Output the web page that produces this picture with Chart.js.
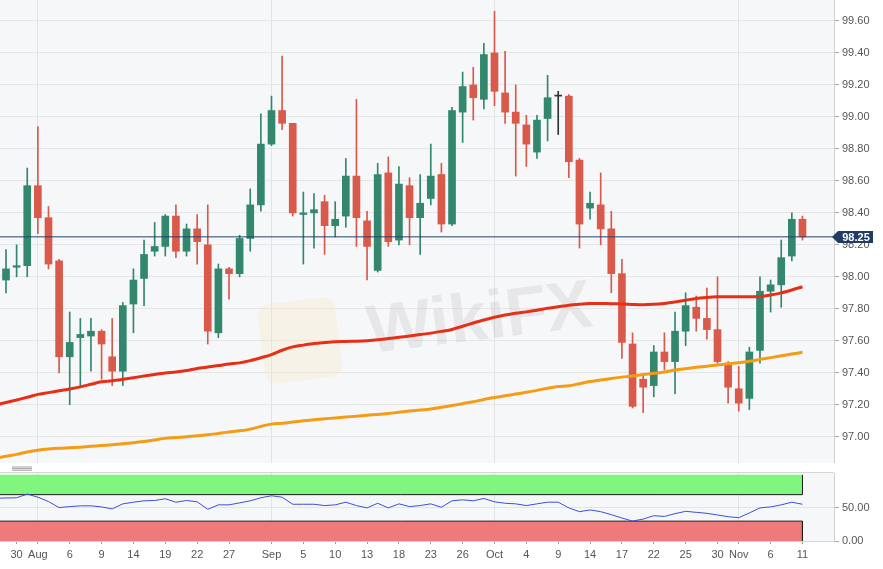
<!DOCTYPE html>
<html>
<head>
<meta charset="utf-8">
<script src="https://cdn.jsdelivr.net/npm/chart.js@4.4.1/dist/chart.umd.min.js"></script>
<style>
  html, body { margin: 0; padding: 0; background: #fff; }
  #wrap { position: relative; width: 883px; height: 569px; overflow: hidden; }
  #priceChart { position: absolute; left: 0; top: 0; }
  #rsiChart { position: absolute; left: 0; top: 463px; }
</style>
</head>
<body>
<div id="wrap">
  <canvas id="priceChart" width="883" height="463"></canvas>
  <canvas id="rsiChart" width="883" height="106"></canvas>
</div>
<script>
// daily candles, 2019 (first day only feeds the averages at the left edge)
const dates = [
  'Jul 26', 'Jul 29', 'Jul 30', 'Jul 31',
  'Aug 1', 'Aug 2', 'Aug 5', 'Aug 6', 'Aug 7', 'Aug 8', 'Aug 9', 'Aug 12', 'Aug 13', 'Aug 14', 'Aug 15', 'Aug 16',
  'Aug 19', 'Aug 20', 'Aug 21', 'Aug 22', 'Aug 23', 'Aug 26', 'Aug 27', 'Aug 28', 'Aug 29', 'Aug 30',
  'Sep 2', 'Sep 3', 'Sep 4', 'Sep 5', 'Sep 6', 'Sep 9', 'Sep 10', 'Sep 11', 'Sep 12', 'Sep 13', 'Sep 16', 'Sep 17',
  'Sep 18', 'Sep 19', 'Sep 20', 'Sep 23', 'Sep 24', 'Sep 25', 'Sep 26', 'Sep 27', 'Sep 30',
  'Oct 1', 'Oct 2', 'Oct 3', 'Oct 4', 'Oct 7', 'Oct 8', 'Oct 9', 'Oct 10', 'Oct 11', 'Oct 14', 'Oct 15', 'Oct 16',
  'Oct 17', 'Oct 18', 'Oct 21', 'Oct 22', 'Oct 23', 'Oct 24', 'Oct 25', 'Oct 28', 'Oct 29', 'Oct 30', 'Oct 31',
  'Nov 1', 'Nov 4', 'Nov 5', 'Nov 6', 'Nov 7', 'Nov 8', 'Nov 11'
];

const open = [null,
  97.98, 98.06, 98.07, 98.57, 98.37, 98.10, 97.50, 97.62, 97.63, 97.66,
  97.50, 97.41, 97.83, 97.99, 98.16, 98.19, 98.38, 98.16, 98.30, 98.20,
  97.65, 98.05, 98.02, 98.24, 98.45, 98.83, 99.04, 98.96, 98.39, 98.40,
  98.47, 98.32, 98.38, 98.63, 98.35, 98.04, 98.65, 98.23, 98.57, 98.37,
  98.49, 98.64, 98.33, 99.03, 99.20, 99.11, 99.40, 99.15, 99.03, 98.95,
  98.78, 98.99, 99.13, 99.13, 98.73, 98.43, 98.45, 98.30, 98.02, 97.58,
  97.36, 97.32, 97.53, 97.47, 97.66, 97.81, 97.74, 97.67, 97.46, 97.30,
  97.24, 97.54, 97.91, 97.95, 98.13, 98.36
];
const high = [null,
  98.17, 98.20, 98.68, 98.94, 98.44, 98.11, 97.78, 97.74, 97.74, 97.67,
  97.74, 97.84, 98.05, 98.23, 98.34, 98.39, 98.45, 98.33, 98.39, 98.45,
  98.08, 98.06, 98.26, 98.55, 99.02, 99.13, 99.38, 98.96, 98.53, 98.52,
  98.51, 98.47, 98.74, 99.11, 98.41, 98.71, 98.75, 98.69, 98.62, 98.64,
  98.83, 98.71, 99.06, 99.28, 99.31, 99.46, 99.66, 99.41, 99.20, 99.01,
  99.01, 99.26, 99.16, 99.14, 98.74, 98.53, 98.65, 98.41, 98.11, 97.65,
  97.39, 97.57, 97.65, 97.78, 97.90, 97.88, 97.93, 98.00, 97.47, 97.44,
  97.56, 98.00, 97.98, 98.23, 98.40, 98.38
];
const low = [null,
  97.90, 98.00, 98.00, 98.27, 98.05, 97.40, 97.20, 97.32, 97.41, 97.36,
  97.32, 97.32, 97.65, 97.82, 98.13, 98.13, 98.12, 98.13, 98.08, 97.58,
  97.62, 97.86, 98.00, 98.16, 98.41, 98.82, 98.92, 98.38, 98.08, 98.18,
  98.14, 98.25, 98.31, 98.19, 97.98, 98.03, 98.19, 98.20, 98.20, 98.14,
  98.45, 98.28, 98.32, 98.84, 98.98, 99.05, 99.07, 98.96, 98.63, 98.69,
  98.74, 98.85, 98.89, 98.62, 98.18, 98.36, 98.20, 97.90, 97.49, 97.18,
  97.15, 97.25, 97.42, 97.27, 97.57, 97.66, 97.61, 97.46, 97.21, 97.16,
  97.17, 97.46, 97.78, 97.81, 98.10, 98.23
];
const close = [null,
  98.05, 98.07, 98.57, 98.37, 98.08, 97.50, 97.59, 97.64, 97.66, 97.58,
  97.41, 97.82, 97.98, 98.14, 98.19, 98.38, 98.16, 98.30, 98.22, 97.66,
  98.05, 98.02, 98.24, 98.45, 98.83, 99.04, 98.96, 98.40, 98.40, 98.42,
  98.32, 98.36, 98.63, 98.37, 98.19, 98.64, 98.22, 98.58, 98.37, 98.46,
  98.63, 98.33, 99.04, 99.19, 99.12, 99.39, 99.16, 99.03, 98.96, 98.83,
  98.98, 99.12, 99.13, 98.72, 98.33, 98.46, 98.30, 98.02, 97.59, 97.19,
  97.31, 97.53, 97.47, 97.66, 97.82, 97.74, 97.67, 97.47, 97.31, 97.21,
  97.53, 97.91, 97.95, 98.12, 98.36, 98.25
];

// moving averages (red = faster, orange = slower)
const maFast = [
  97.199, 97.214, 97.230, 97.247, 97.265, 97.276, 97.288, 97.299, 97.312, 97.328, 97.344,
  97.350, 97.359, 97.369, 97.380, 97.390, 97.399, 97.405, 97.414, 97.427, 97.436,
  97.445, 97.455, 97.462, 97.476, 97.494, 97.514, 97.541, 97.562, 97.573, 97.583,
  97.589, 97.594, 97.596, 97.598, 97.601, 97.606, 97.614, 97.622, 97.630, 97.639,
  97.648, 97.659, 97.671, 97.691, 97.711, 97.730, 97.747, 97.761, 97.773, 97.781,
  97.791, 97.803, 97.813, 97.823, 97.829, 97.833, 97.833, 97.832, 97.830, 97.827,
  97.825, 97.828, 97.834, 97.843, 97.854, 97.865, 97.871, 97.875, 97.876, 97.876,
  97.876, 97.877, 97.886, 97.900, 97.918, 97.938
];
const maSlow = [
  96.865, 96.878, 96.890, 96.905, 96.916, 96.923, 96.928, 96.931, 96.935, 96.940, 96.945,
  96.950, 96.956, 96.963, 96.971, 96.980, 96.990, 96.995, 97.000, 97.006, 97.012,
  97.021, 97.030, 97.037, 97.048, 97.065, 97.079, 97.085, 97.092, 97.100, 97.107,
  97.112, 97.118, 97.123, 97.129, 97.135, 97.140, 97.146, 97.153, 97.161, 97.167,
  97.174, 97.184, 97.195, 97.207, 97.219, 97.233, 97.245, 97.256, 97.267, 97.278,
  97.290, 97.304, 97.314, 97.319, 97.332, 97.345, 97.355, 97.365, 97.373, 97.380,
  97.389, 97.397, 97.405, 97.417, 97.426, 97.434, 97.441, 97.449, 97.456, 97.463,
  97.472, 97.484, 97.495, 97.506, 97.517, 97.528
];

const rsi = [
  64.5, 65.0, 65.3, 70.8, 66.2, 59.6, 50.5, 52.0, 53.1, 53.1, 51.5,
  48.5, 56.1, 58.6, 60.7, 61.2, 63.8, 58.6, 61.2, 59.2, 47.9,
  54.6, 54.6, 57.6, 60.7, 65.3, 68.3, 66.2, 55.5, 55.5, 55.5,
  53.5, 54.6, 58.6, 53.5, 50.0, 57.0, 50.0, 56.1, 52.0, 53.5,
  56.1, 51.0, 60.7, 62.2, 60.7, 64.2, 59.2, 57.0, 56.1, 53.5,
  56.1, 58.6, 58.6, 50.0, 44.3, 46.9, 44.3, 39.8, 34.7, 30.1,
  33.1, 38.2, 37.1, 41.3, 44.8, 43.3, 41.8, 39.3, 36.7, 35.2,
  42.4, 50.0, 51.5, 54.6, 58.6, 55.5
];
const rsiUpper = 70;
const rsiLower = 30;

const priceTicks = [97.0, 97.2, 97.4, 97.6, 97.8, 98.0, 98.2, 98.4, 98.6, 98.8, 99.0, 99.2, 99.4, 99.6];
const rsiTicks = [0, 50];
const tickDates = ['Jul 30', 'Aug 1', 'Aug 6', 'Aug 9', 'Aug 14', 'Aug 19', 'Aug 22', 'Aug 27', 'Sep 2', 'Sep 5',
  'Sep 10', 'Sep 13', 'Sep 18', 'Sep 23', 'Sep 26', 'Oct 1', 'Oct 4', 'Oct 9', 'Oct 14', 'Oct 17', 'Oct 22',
  'Oct 25', 'Oct 30', 'Nov 1', 'Nov 6', 'Nov 11'];
const tickText = ['30', 'Aug', '6', '9', '14', '19', '22', '27', 'Sep', '5', '10', '13', '18', '23', '26',
  'Oct', '4', '9', '14', '17', '22', '25', '30', 'Nov', '6', '11'];
const monthStarts = ['Aug 1', 'Sep 2', 'Oct 1', 'Nov 1'];

/* ---------- setup ---------- */
const FONT = '"Liberation Sans", Arial, sans-serif';
Chart.defaults.font.family = FONT;

const xMin = 0.435, xMax = 78.97;
const yMin = 96.836, yMax = 99.731;
const last = dates.length - 1;
const lastClose = close[last];
const candleIdx = dates.map((d, i) => i).filter(i => open[i] !== null);

function candleColor(i) {
  if (close[i] > open[i]) return '#32876d';
  if (close[i] < open[i]) return '#d9594a';
  return '#333333';
}

// right axis: fixed width, no extra label padding above/below the plot
function fitRightAxis(s) {
  s.width = 49;
  s.paddingTop = 0;
  s.paddingBottom = 0;
}

const panelBg = {
  id: 'panelBg',
  beforeDraw(chart) {
    const { ctx, chartArea: a } = chart;
    ctx.save();
    ctx.fillStyle = '#f6f7f9';
    ctx.fillRect(a.left, a.top, a.right - a.left, a.bottom - a.top);
    ctx.restore();
  }
};

const watermark = {
  id: 'watermark',
  beforeDatasetsDraw(chart) {
    const { ctx } = chart;
    ctx.save();
    ctx.translate(470, 322);
    ctx.rotate(-0.12);
    ctx.fillStyle = 'rgba(250, 226, 170, 0.22)';
    ctx.beginPath();
    ctx.roundRect(-210, -42, 78, 80, 12);
    ctx.fill();
    ctx.fillStyle = 'rgba(175, 170, 168, 0.2)';
    ctx.font = 'bold 68px ' + FONT;
    ctx.textAlign = 'center';
    ctx.textBaseline = 'middle';
    ctx.fillText('WikiFX', 10, 0);
    ctx.restore();
  }
};

const lastTag = {
  id: 'lastTag',
  afterDraw(chart) {
    const { ctx, chartArea: a, scales } = chart;
    const y = Math.round(scales.y.getPixelForValue(lastClose));
    const x = a.right - 2;
    ctx.save();
    ctx.fillStyle = '#1f3c62';
    ctx.beginPath();
    ctx.moveTo(x, y);
    ctx.lineTo(x + 6, y - 6);
    ctx.lineTo(x + 41, y - 6);
    ctx.lineTo(x + 41, y + 6);
    ctx.lineTo(x + 6, y + 6);
    ctx.closePath();
    ctx.fill();
    ctx.fillStyle = '#ffffff';
    ctx.font = 'bold 11px ' + FONT;
    ctx.textAlign = 'center';
    ctx.textBaseline = 'middle';
    ctx.fillText(lastClose.toFixed(2), x + 24, y + 0.5);
    ctx.restore();
  }
};

const rsiFrame = {
  id: 'rsiFrame',
  afterDraw(chart) {
    const { ctx, chartArea: a } = chart;
    ctx.save();
    ctx.strokeStyle = '#d6d6d6';
    ctx.lineWidth = 1;
    ctx.beginPath();
    ctx.moveTo(a.left, a.top - 0.5);
    ctx.lineTo(a.right, a.top - 0.5);
    ctx.stroke();
    // panel drag handle
    ctx.strokeStyle = '#8c8c8c';
    ctx.lineWidth = 0.8;
    for (let k = 0; k < 3; k++) {
      ctx.beginPath();
      ctx.moveTo(12, 4 + k * 1.6);
      ctx.lineTo(32, 4 + k * 1.6);
      ctx.stroke();
    }
    ctx.restore();
  }
};

/* ================= PRICE PANEL ================= */
new Chart(document.getElementById('priceChart'), {
  type: 'bar',
  data: {
    datasets: [
      {
        type: 'line',
        data: [{ x: xMin, y: lastClose }, { x: xMax, y: lastClose }],
        borderColor: '#24426a',
        borderWidth: 1,
        pointRadius: 0,
        order: 0
      },
      {
        type: 'line',
        data: dates.map((d, i) => ({ x: i, y: maFast[i] })),
        borderColor: '#e62f16',
        borderWidth: 3,
        pointRadius: 0,
        tension: 0.3,
        order: 1
      },
      {
        type: 'line',
        data: dates.map((d, i) => ({ x: i, y: maSlow[i] })),
        borderColor: '#f59c16',
        borderWidth: 3,
        pointRadius: 0,
        tension: 0.3,
        order: 1
      },
      {
        data: candleIdx.map(i => ({ x: i, y: [open[i], close[i]] })),
        backgroundColor: candleIdx.map(candleColor),
        barThickness: 7,
        maxBarThickness: 7,
        minBarLength: 1,
        grouped: false,
        order: 2
      },
      {
        data: candleIdx.map(i => ({ x: i, y: [low[i], high[i]] })),
        backgroundColor: candleIdx.map(candleColor),
        barThickness: 1,
        maxBarThickness: 1,
        grouped: false,
        order: 3
      }
    ]
  },
  options: {
    responsive: false,
    animation: false,
    events: [],
    layout: { padding: 0 },
    plugins: { legend: { display: false }, tooltip: { enabled: false } },
    scales: {
      x: {
        type: 'linear',
        min: xMin,
        max: xMax,
        bounds: 'data',
        offset: false,
        grid: { color: '#e3e3e3', drawTicks: false, offset: false },
        border: { display: true, color: '#d0d0d0' },
        ticks: { display: false },
        afterBuildTicks: s => { s.ticks = monthStarts.map(d => ({ value: dates.indexOf(d) })); }
      },
      y: {
        position: 'right',
        min: yMin,
        max: yMax,
        bounds: 'data',
        grid: { color: '#e6e6e6', tickLength: 5, tickColor: '#aaaaaa' },
        border: { color: '#cfcfcf' },
        ticks: { font: { size: 11 }, color: '#555555', padding: 3, callback: v => v.toFixed(2) },
        afterBuildTicks: s => { s.ticks = priceTicks.map(v => ({ value: v })); },
        afterFit: fitRightAxis
      }
    }
  },
  plugins: [panelBg, watermark, lastTag]
});

/* ================= RSI PANEL ================= */
new Chart(document.getElementById('rsiChart'), {
  type: 'line',
  data: {
    datasets: [
      {
        data: dates.map((d, i) => ({ x: i, y: rsi[i] })),
        borderColor: '#3d50d6',
        borderWidth: 1,
        pointRadius: 0,
        order: 0
      },
      {
        data: [{ x: 0, y: rsiUpper }, { x: last, y: rsiUpper }, { x: last, y: 100 }],
        borderColor: '#1c1c1c',
        borderWidth: 1,
        backgroundColor: '#80f67f',
        fill: { value: 100 },
        pointRadius: 0,
        order: 1
      },
      {
        data: [{ x: 0, y: rsiLower }, { x: last, y: rsiLower }, { x: last, y: 0 }],
        borderColor: '#1c1c1c',
        borderWidth: 1,
        backgroundColor: '#ef7a7b',
        fill: { value: 0 },
        pointRadius: 0,
        order: 1
      }
    ]
  },
  options: {
    responsive: false,
    animation: false,
    events: [],
    layout: { padding: { top: 10 } },
    plugins: { legend: { display: false }, tooltip: { enabled: false } },
    scales: {
      x: {
        type: 'linear',
        min: xMin,
        max: xMax,
        bounds: 'data',
        grid: {
          color: c => (c.tick && monthStarts.includes(dates[c.tick.value])) ? '#e3e3e3' : 'rgba(0,0,0,0)',
          tickLength: 3,
          tickColor: '#9a9a9a'
        },
        border: { display: true, color: '#d6d6d6' },
        ticks: {
          autoSkip: false,
          maxRotation: 0,
          padding: 4,
          font: { size: 11 },
          color: '#555555',
          callback: (v, i) => tickText[i]
        },
        afterBuildTicks: s => { s.ticks = tickDates.map(d => ({ value: dates.indexOf(d) })); },
        afterFit: s => { s.height = 28; s.paddingLeft = 0; s.paddingRight = 0; }
      },
      y: {
        position: 'right',
        min: 0,
        max: 102.7,
        bounds: 'data',
        grid: { color: '#e4e4e4', tickLength: 5, tickColor: '#aaaaaa' },
        border: { color: '#cfcfcf' },
        ticks: { font: { size: 11 }, color: '#555555', padding: 3, callback: v => v.toFixed(2) },
        afterBuildTicks: s => { s.ticks = rsiTicks.map(v => ({ value: v })); },
        afterFit: fitRightAxis
      }
    }
  },
  plugins: [panelBg, rsiFrame]
});
</script>
</body>
</html>
